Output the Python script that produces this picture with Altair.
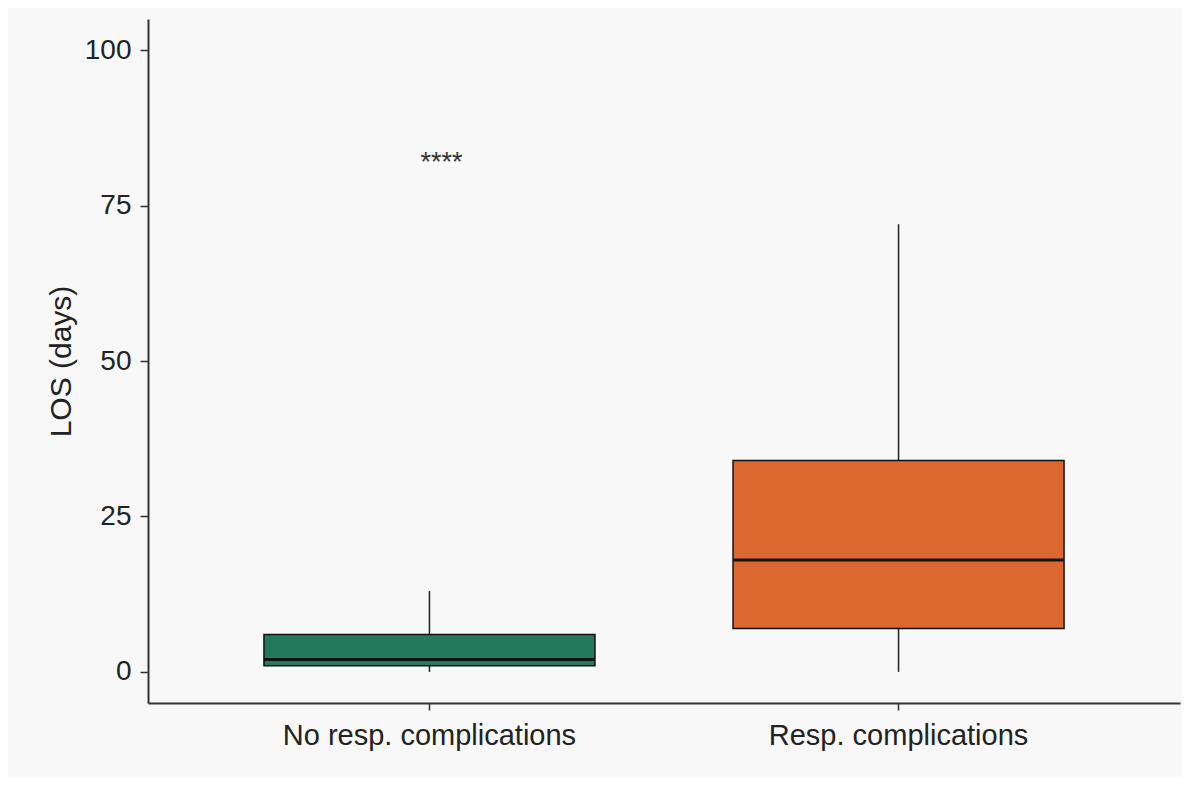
import altair as alt
import pandas as pd

groups = ["No resp. complications", "Resp. complications"]
lower = [0, 0]
q1 = [1, 7]
median = [2, 18]
q3 = [6, 34]
upper = [13, 72]
fills = ["#22795C", "#DC682F"]
y_ticks = [0, 25, 50, 75, 100]
sig_label = "****"
sig_y = 80.5

df = pd.DataFrame({
    "group": groups, "lower": lower, "q1": q1, "median": median,
    "q3": q3, "upper": upper,
})
sig_df = pd.DataFrame({"group": [groups[0]], "y": [sig_y], "label": [sig_label]})

FONT = "Liberation Sans"
x_scale = alt.Scale(domain=groups, paddingInner=0, paddingOuter=0.1)
x_enc = alt.X(
    "group:N",
    scale=x_scale,
    axis=alt.Axis(
        title=None, labelAngle=0, labelFontSize=29, labelColor="#222222",
        labelFont=FONT, labelPadding=11, labelLimit=0, tickSize=7, tickWidth=1.5,
        tickColor="#333333", domainColor="#333333", domainWidth=2,
    ),
)
y_scale = alt.Scale(domain=[-5, 105], nice=False, zero=False)
y_axis = alt.Axis(
    values=y_ticks, grid=False, title="LOS (days)", titleFontSize=30,
    titleFontWeight="normal", titleColor="#222222", titleFont=FONT,
    titlePadding=8, labelFontSize=28, labelColor="#222222", labelFont=FONT,
    labelPadding=9, tickSize=8, tickWidth=1.5, tickColor="#333333",
    domainColor="#333333", domainWidth=2,
)

base = alt.Chart(df).encode(x=x_enc)

whisk_up = base.mark_rule(color="#222222", strokeWidth=1.5).encode(
    y=alt.Y("q3:Q", scale=y_scale, axis=y_axis), y2="upper:Q")
whisk_lo = base.mark_rule(color="#222222", strokeWidth=1.5).encode(
    y=alt.Y("lower:Q", scale=y_scale), y2="q1:Q")
box = base.mark_bar(size=331, stroke="#111111", strokeWidth=1.5).encode(
    y=alt.Y("q1:Q", scale=y_scale), y2="q3:Q",
    color=alt.Color("group:N", scale=alt.Scale(domain=groups, range=fills), legend=None),
)
med = base.mark_tick(size=331, thickness=3, color="#111111", opacity=1).encode(
    y=alt.Y("median:Q", scale=y_scale))
sig = alt.Chart(sig_df).mark_text(
    font=FONT, fontSize=27, color="#333333", dx=12, baseline="alphabetic"
).encode(x=alt.X("group:N", scale=x_scale),
         y=alt.Y("y:Q", scale=y_scale), text="label:N")

chart = alt.layer(whisk_up, whisk_lo, box, med, sig).properties(
    width=1032, height=684,
    autosize=alt.AutoSizeParams(type="none"),
    padding={"left": 140, "top": 11, "right": 2, "bottom": 74},
    background="#f8f8f8",
).configure_view(stroke=None)

chart.save("out.html", embed_options={"renderer": "svg", "actions": False})
